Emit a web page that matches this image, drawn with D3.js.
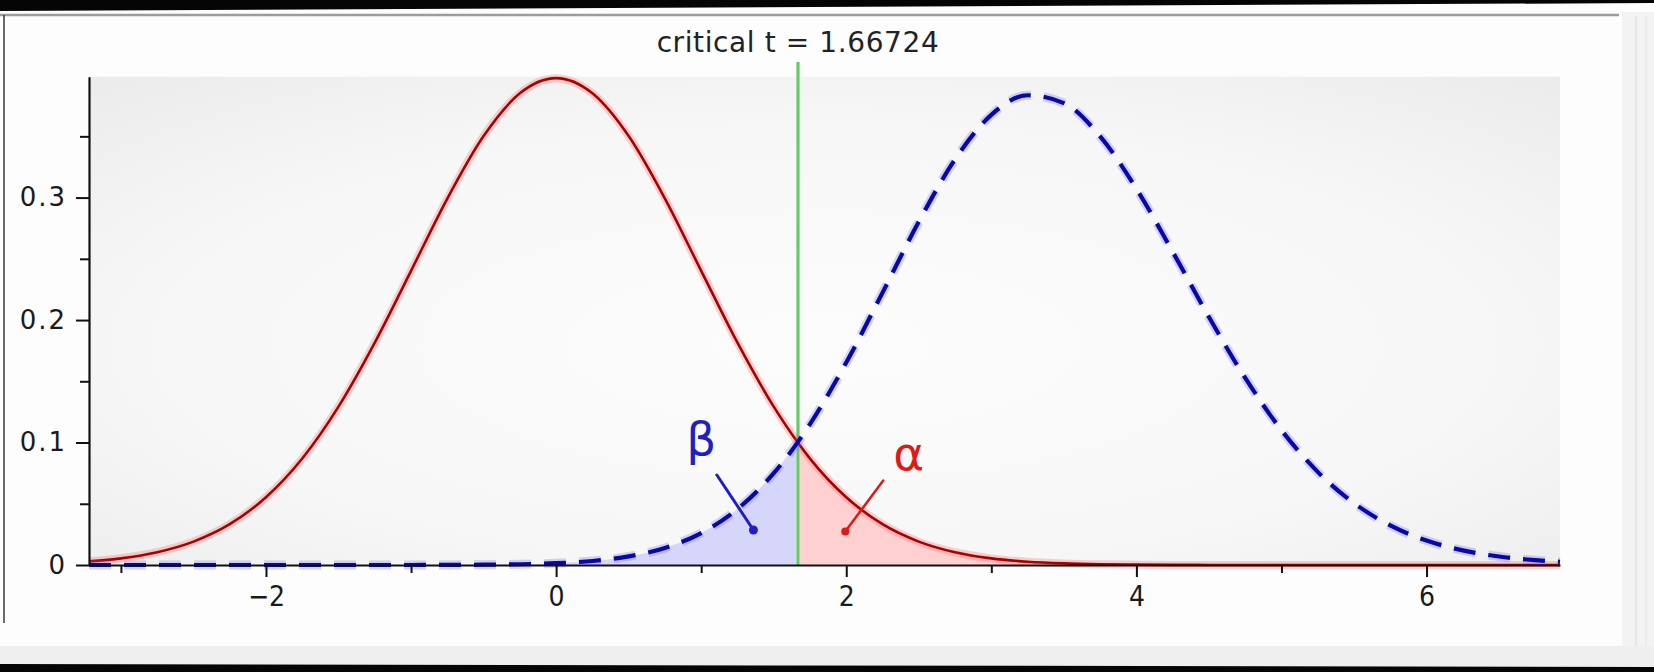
<!DOCTYPE html>
<html>
<head>
<meta charset="utf-8">
<script src="https://cdn.jsdelivr.net/npm/d3@7"></script>
<style>
  html, body { margin: 0; padding: 0; background: #ffffff; }
  svg { display: block; }
</style>
</head>
<body>
<svg id="chart" width="1654" height="672"></svg>
<script>
// ---------- data ----------
const titleText = "critical t = 1.66724";
const criticalT = 1.66724;

const xGrid = [-3.22,-3,-2.75,-2.5,-2.25,-2,-1.75,-1.5,-1.25,-1,-0.75,-0.5,-0.25,0,0.25,0.5,0.75,1,1.25,1.5,1.66724,1.75,2,2.25,2.5,2.75,3,3.25,3.5,3.75,4,4.25,4.5,4.75,5,5.25,5.5,5.75,6,6.25,6.5,6.75,6.92];

// null distribution (solid red)
const nullValues = [0.00296,0.00544,0.01043,0.01911,0.03334,0.05530,0.08692,0.1293,0.1815,0.2402,0.2992,0.3502,0.3851,0.3975,0.3851,0.3502,0.2992,0.2402,0.1815,0.1293,0.0998,0.0869,0.0553,0.0333,0.0191,0.0104,0.0054,0.0027,0.0013,0.0006,0.0003,0.0001,0.00005,0,0,0,0,0,0,0,0,0,0];

// alternative distribution (dashed blue)
const altValues = [0,0,0,0,0,0,0,0,0,0,0.00009,0.00024,0.00061,0.00146,0.00329,0.00699,0.01394,0.02607,0.04568,0.07493,0.10056,0.11504,0.16530,0.22237,0.28026,0.33121,0.36755,0.38356,0.37708,0.34995,0.30725,0.25578,0.20244,0.15271,0.11008,0.07603,0.05047,0.03227,0.01993,0.01193,0.00693,0.00392,0.00263];

const xMajorTicks = [-2, 0, 2, 4, 6];
const xMinorTicks = [-3, -1, 1, 3, 5];
const yMajorTicks = [0, 0.1, 0.2, 0.3];
const yMinorTicks = [0.05, 0.15, 0.25, 0.35];
const yTickLabels = ["0", "0.1", "0.2", "0.3"];
const xTickLabels = ["\u22122", "0", "2", "4", "6"];

// annotations: [label, labelX, labelY, lineFromX, lineFromY, dotX, dotY]
const betaNote  = ["\u03B2", 1.00, 0.0898, 1.108, 0.0735, 1.36, 0.0286];
const alphaNote = ["\u03B1", 2.43, 0.0776, 2.255, 0.069, 1.993, 0.0273];

const xDomain = [-3.22, 6.92];
const yDomain = [0, 0.3987];

// ---------- setup ----------
const svg = d3.select("#chart");
const W = 1654, H = 672;
const plot = { left: 89, right: 1560, top: 76.7, bottom: 565 };

const x = d3.scaleLinear().domain(xDomain).range([plot.left, plot.right]);
const y = d3.scaleLinear().domain(yDomain).range([plot.bottom, plot.top]);

const defs = svg.append("defs");
const rg = defs.append("radialGradient").attr("id", "bg")
  .attr("cx", "50%").attr("cy", "55%").attr("r", "75%");
rg.append("stop").attr("offset", "0%").attr("stop-color", "#fcfcfc");
rg.append("stop").attr("offset", "60%").attr("stop-color", "#f7f7f7");
rg.append("stop").attr("offset", "100%").attr("stop-color", "#ebebeb");

// ---------- frame / photo edges ----------
svg.append("rect").attr("x", 0).attr("y", 0).attr("width", W).attr("height", H).attr("fill", "#fdfdfd");
svg.append("rect").attr("x", 1622).attr("y", 12).attr("width", 32).attr("height", 655).attr("fill", "#f3f3f3");
svg.append("line").attr("x1", 1636).attr("x2", 1636).attr("y1", 16).attr("y2", 660).attr("stroke", "#e2e2e2").attr("stroke-width", 1.5);
svg.append("line").attr("x1", 1646).attr("x2", 1646).attr("y1", 16).attr("y2", 660).attr("stroke", "#e8e8e8").attr("stroke-width", 1.5);
svg.append("rect").attr("x", 0).attr("y", 646).attr("width", W).attr("height", 22).attr("fill", "#efefef");
svg.append("polygon").attr("points", "0,0 1654,0 1654,3 0,11").attr("fill", "#050505");
svg.append("polygon").attr("points", "0,664 1654,667 1654,672 0,672").attr("fill", "#050505");
svg.append("line").attr("x1", 0).attr("x2", 1619).attr("y1", 15).attr("y2", 15).attr("stroke", "#9c9c9c").attr("stroke-width", 2.5);
svg.append("line").attr("x1", 4).attr("x2", 4).attr("y1", 15).attr("y2", 623).attr("stroke", "#3a3a3a").attr("stroke-width", 1.5);

// ---------- plot background ----------
svg.append("rect")
  .attr("x", plot.left).attr("y", plot.top)
  .attr("width", plot.right - plot.left).attr("height", plot.bottom - plot.top)
  .attr("fill", "url(#bg)");

// ---------- data series ----------
const nullData = xGrid.map((v, i) => ({ x: v, y: nullValues[i] }));
const altData = xGrid.map((v, i) => ({ x: v, y: altValues[i] }));

const area = d3.area().x(d => x(d.x)).y0(y(0)).y1(d => y(d.y)).curve(d3.curveMonotoneX);
const line = d3.line().x(d => x(d.x)).y(d => y(d.y)).curve(d3.curveMonotoneX);

// beta region: alternative below critical t
svg.append("path").datum(altData.filter(d => d.x <= criticalT))
  .attr("d", area).attr("fill", "#d6d6fb");
// alpha region: null above critical t
svg.append("path").datum(nullData.filter(d => d.x >= criticalT))
  .attr("d", area).attr("fill", "#ffd0d0");

// critical value line
svg.append("line")
  .attr("x1", x(criticalT)).attr("x2", x(criticalT))
  .attr("y1", 62).attr("y2", y(0))
  .attr("stroke", "#9fe09f").attr("stroke-width", 4);
svg.append("line")
  .attr("x1", x(criticalT)).attr("x2", x(criticalT))
  .attr("y1", 62).attr("y2", y(0))
  .attr("stroke", "#5cc85c").attr("stroke-width", 1.8);

// red curve with soft glow
svg.append("path").datum(nullData).attr("d", line)
  .attr("fill", "none").attr("stroke", "#ff6a6a").attr("stroke-width", 8).attr("stroke-opacity", 0.3);
svg.append("path").datum(nullData).attr("d", line)
  .attr("fill", "none").attr("stroke", "#a80000").attr("stroke-width", 2.6);

// blue dashed curve with soft glow
svg.append("path").datum(altData).attr("d", line)
  .attr("fill", "none").attr("stroke", "#6a6aff").attr("stroke-width", 9).attr("stroke-opacity", 0.28)
  .attr("stroke-dasharray", "22,13");
svg.append("path").datum(altData).attr("d", line)
  .attr("fill", "none").attr("stroke", "#0808a8").attr("stroke-width", 4.2)
  .attr("stroke-dasharray", "22,13");

// ---------- axes ----------
const axisColor = "#111";
const xAxis = svg.append("g").attr("transform", `translate(0,${plot.bottom})`)
  .call(d3.axisBottom(x).tickValues(xMajorTicks).tickSize(12).tickSizeOuter(0).tickPadding(9)
    .tickFormat((d, i) => xTickLabels[i]));
const xMinor = svg.append("g").attr("transform", `translate(0,${plot.bottom})`)
  .call(d3.axisBottom(x).tickValues(xMinorTicks).tickSize(8).tickSizeOuter(0).tickFormat(""));
const yAxis = svg.append("g").attr("transform", `translate(${plot.left},0)`)
  .call(d3.axisLeft(y).tickValues(yMajorTicks).tickSize(13).tickSizeOuter(0).tickPadding(9)
    .tickFormat((d, i) => yTickLabels[i]));
const yMinor = svg.append("g").attr("transform", `translate(${plot.left},0)`)
  .call(d3.axisLeft(y).tickValues(yMinorTicks).tickSize(9).tickSizeOuter(0).tickFormat(""));

[xAxis, xMinor, yAxis, yMinor].forEach(g => {
  g.select(".domain").attr("stroke", axisColor).attr("stroke-width", 2.2);
  g.selectAll(".tick line").attr("stroke", axisColor).attr("stroke-width", 2);
});
xMinor.select(".domain").remove();
yMinor.select(".domain").remove();
xAxis.selectAll(".tick text")
  .attr("font-family", "'DejaVu Sans Condensed', 'DejaVu Sans', sans-serif")
  .attr("font-stretch", "condensed")
  .attr("font-size", 28).attr("fill", "#1a1a1a");
yAxis.selectAll(".tick text")
  .attr("font-family", "'DejaVu Sans', sans-serif").attr("font-size", 26)
  .attr("letter-spacing", 2).attr("fill", "#1a1a1a");

// ---------- title ----------
svg.append("text")
  .attr("x", x(criticalT)).attr("y", 52)
  .attr("text-anchor", "middle")
  .attr("font-family", "'DejaVu Sans', sans-serif")
  .attr("font-size", 28).attr("letter-spacing", 0.6)
  .attr("fill", "#222")
  .text(titleText);

// ---------- annotations ----------
function note(n, color, lw, r) {
  const [label, lx, ly, fx, fy, dx, dy] = n;
  svg.append("line")
    .attr("x1", x(fx)).attr("y1", y(fy)).attr("x2", x(dx)).attr("y2", y(dy))
    .attr("stroke", color).attr("stroke-width", lw).attr("stroke-linecap", "round");
  svg.append("circle").attr("cx", x(dx)).attr("cy", y(dy)).attr("r", r).attr("fill", color);
  svg.append("text")
    .attr("x", x(lx)).attr("y", y(ly))
    .attr("text-anchor", "middle")
    .attr("font-family", "'DejaVu Sans', sans-serif")
    .attr("font-size", 47).attr("fill", color)
    .text(label);
}
note(betaNote, "#1f1fc8", 3, 4.5);
note(alphaNote, "#e01818", 2.5, 4);
</script>
</body>
</html>
